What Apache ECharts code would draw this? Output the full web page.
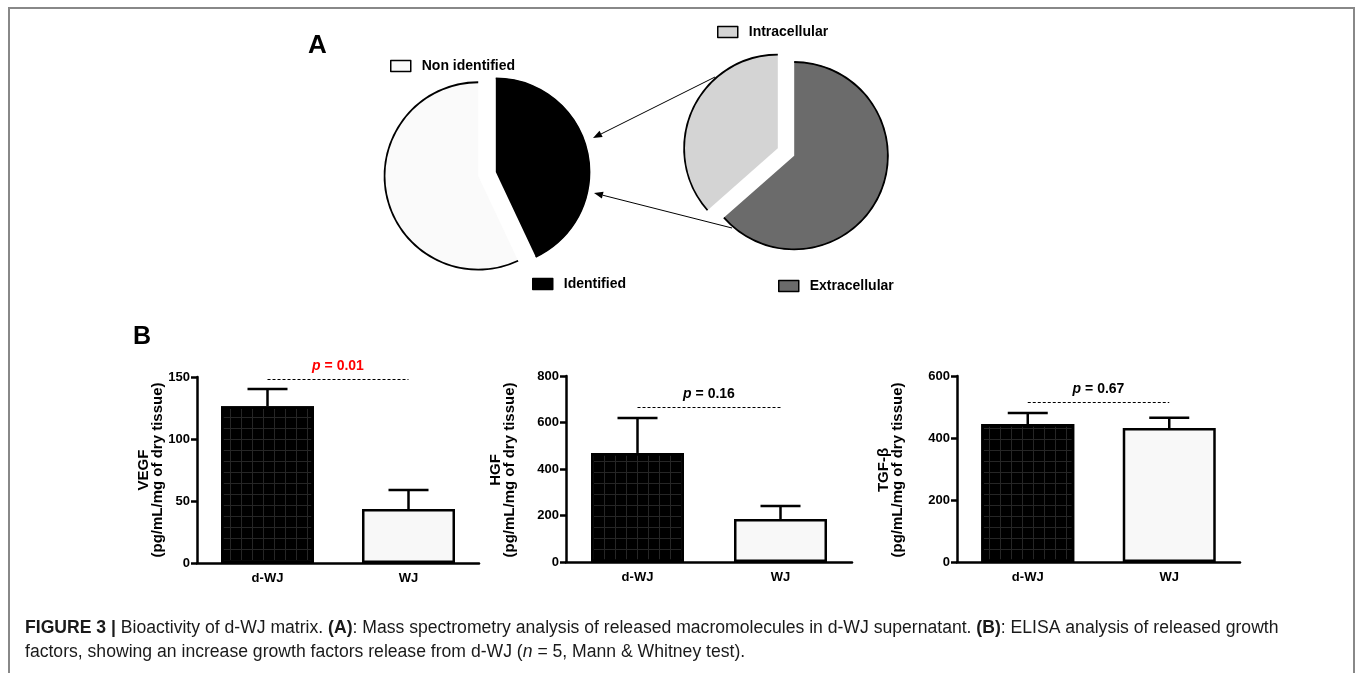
<!DOCTYPE html>
<html><head><meta charset="utf-8">
<script src="https://cdn.jsdelivr.net/npm/echarts@6/dist/echarts.min.js"></script>
<style>html,body{margin:0;padding:0;background:#fff}#c{width:1355px;height:673px}</style>
</head><body><div id="c"></div>
<script>
// ---------- data ----------
const categories = ['d-WJ', 'WJ'];
const vegfMean = [126.5, 43.5];
const vegfSD = [13.8, 15.4];
const hgfMean = [469, 185];
const hgfSD = [150, 56];
const tgfMean = [445, 432];
const tgfSD = [36, 33];
const pValues = ['0.01', '0.16', '0.67'];
const pLineLevel = [148, 667, 516];
const yMax = [150, 800, 600];
const yInterval = [50, 200, 200];
const yTitles = ['VEGF', 'HGF', 'TGF-β'];
const yUnit = '(pg/mL/mg of dry tissue)';
const pieANames = ['Identified', 'Non identified'];
const pieAValues = [43, 57];
const pieBNames = ['Extracellular', 'Intracellular'];
const pieBValues = [63.5, 36.5];
const captionLine1 = ['FIGURE 3 |', ' Bioactivity of d-WJ matrix. ', '(A)', ': Mass spectrometry analysis of released macromolecules in d-WJ supernatant. ', '(B)', ': ELISA analysis of released growth'];
const captionLine2 = ['factors, showing an increase growth factors release from d-WJ (', 'n', ' = 5, Mann & Whitney test).'];

// ---------- styles ----------
const FONT = '"Liberation Sans", Arial, Helvetica, sans-serif';
const pieAColors = ['#000000', '#fafafa'];
const pieBColors = ['#6b6b6b', '#d4d4d4'];
const grids = [
  {left: 197, top: 377, width: 282, height: 186},
  {left: 566, top: 376, width: 286, height: 186},
  {left: 957, top: 376, width: 283, height: 186}
];
const means = [vegfMean, hgfMean, tgfMean];
const sds = [vegfSD, hgfSD, tgfSD];
const titleX = [151, 503, 891];
const pColors = ['#ff0000', '#000', '#000'];
const barStyles = [
  {color: '#262626', borderColor: '#000', borderWidth: 2.5,
   decal: {symbol: 'rect', symbolSize: 1, color: '#000', dashArrayX: [10, 1], dashArrayY: [10, 1], rotation: 0}},
  {color: '#f8f8f8', borderColor: '#000', borderWidth: 2.5}
];

const chart = echarts.init(document.getElementById('c'), null, {renderer: 'canvas'});

const xAxes = [], yAxes = [], series = [];
for (let i = 0; i < 3; i++) {
  xAxes.push({
    type: 'category', gridIndex: i, data: categories,
    axisLine: {lineStyle: {color: '#000', width: 2.5}},
    axisTick: {alignWithLabel: true, length: 6, lineStyle: {color: '#000', width: 2.5}},
    axisLabel: {color: '#000', fontWeight: 'bold', fontSize: 13, fontFamily: FONT, margin: 9},
    splitLine: {show: false}
  });
  yAxes.push({
    type: 'value', gridIndex: i, min: 0, max: yMax[i], interval: yInterval[i],
    axisLine: {show: true, lineStyle: {color: '#000', width: 2.5}},
    axisTick: {show: true, length: 6, lineStyle: {color: '#000', width: 2.5}},
    axisLabel: {color: '#000', fontWeight: 'bold', fontSize: 13, fontFamily: FONT, margin: 7},
    splitLine: {show: false}
  });
  series.push({
    type: 'bar', xAxisIndex: i, yAxisIndex: i, barWidth: 93,
    data: means[i].map((v, k) => ({value: v, itemStyle: barStyles[k]})),
    emphasis: {disabled: true}, silent: true, z: 3,
    markLine: {
      silent: true, symbol: 'none', animation: false,
      lineStyle: {color: '#000', type: [3, 2], width: 1.2},
      label: {
        show: true, position: 'middle', distance: 6,
        formatter: '{i|p} = ' + pValues[i],
        color: pColors[i], fontWeight: 'bold', fontSize: 14, fontFamily: FONT,
        rich: {i: {fontStyle: 'italic', fontWeight: 'bold', fontSize: 14, fontFamily: FONT, color: pColors[i]}}
      },
      data: [[{coord: [categories[0], pLineLevel[i]]}, {coord: [categories[1], pLineLevel[i]]}]]
    }
  });
  const m = means[i], s = sds[i];
  series.push({
    type: 'custom', xAxisIndex: i, yAxisIndex: i, silent: true, z: 2,
    data: m.map((v, k) => [k, v, v + s[k]]),
    encode: {x: 0, y: [1, 2]},
    renderItem: (params, api) => {
      const base = api.coord([api.value(0), api.value(1)]);
      const top = api.coord([api.value(0), api.value(2)]);
      const hw = 20;
      return {type: 'group', children: [
        {type: 'line', shape: {x1: base[0], y1: base[1], x2: top[0], y2: top[1]}, style: {stroke: '#000', lineWidth: 2.5}},
        {type: 'line', shape: {x1: top[0] - hw, y1: top[1], x2: top[0] + hw, y2: top[1]}, style: {stroke: '#000', lineWidth: 2.5}}
      ]};
    }
  });
}

function pieFill(names, values, colors, center) {
  return {
    type: 'pie', center: center, radius: 94, startAngle: 90, clockwise: true,
    selectedMode: 'multiple', selectedOffset: 9, silent: true, animation: false,
    label: {show: false}, labelLine: {show: false}, emphasis: {disabled: true},
    itemStyle: {borderWidth: 0},
    data: names.map((n, k) => ({name: n, value: values[k], selected: true, itemStyle: {color: colors[k]}}))
  };
}
function pieRing(names, values, center) {
  return {
    type: 'pie', center: center, radius: [92.8, 94.6], startAngle: 90, clockwise: true,
    selectedMode: 'multiple', selectedOffset: 9, silent: true, animation: false,
    label: {show: false}, labelLine: {show: false}, emphasis: {disabled: true},
    itemStyle: {borderWidth: 0, color: '#000'},
    data: names.map((n, k) => ({name: 'ring ' + n, value: values[k], selected: true}))
  };
}
series.push(pieFill(pieANames, pieAValues, pieAColors, [487, 174]));
series.push(pieRing(pieANames, pieAValues, [487, 174]));
series.push(pieFill(pieBNames, pieBValues, pieBColors, [786, 152]));
series.push(pieRing(pieBNames, pieBValues, [786, 152]));

function legendAt(name, left, top) {
  return {
    data: [name], left: left, top: top, padding: 0, selectedMode: false,
    icon: 'rect', itemWidth: 20, itemHeight: 11,
    itemStyle: {borderColor: '#000', borderWidth: 1.5},
    textStyle: {color: '#000', fontWeight: 'bold', fontSize: 14, fontFamily: FONT, padding: [0, 0, 0, 6]}
  };
}

function arrow(x1, y1, x2, y2) {
  const a = Math.atan2(y2 - y1, x2 - x1), L = 9, W = 3.5;
  const bx = x2 - L * Math.cos(a), by = y2 - L * Math.sin(a);
  const px = -Math.sin(a) * W, py = Math.cos(a) * W;
  return [
    {type: 'line', shape: {x1: x1, y1: y1, x2: bx, y2: by}, style: {stroke: '#000', lineWidth: 1}},
    {type: 'polygon', shape: {points: [[x2, y2], [bx + px, by + py], [bx - px, by - py]]}, style: {fill: '#000'}}
  ];
}

const CAPSIZE = 17.6;
const richCap = {
  b: {fontWeight: 'bold', fontSize: CAPSIZE, fontFamily: FONT, fill: '#1a1a1a'},
  i: {fontStyle: 'italic', fontSize: CAPSIZE, fontFamily: FONT, fill: '#1a1a1a'}
};
const cap1 = '{b|' + captionLine1[0] + '}' + captionLine1[1] + '{b|' + captionLine1[2] + '}' + captionLine1[3] + '{b|' + captionLine1[4] + '}' + captionLine1[5];
const cap2 = captionLine2[0] + '{i|' + captionLine2[1] + '}' + captionLine2[2];

const graphics = [
  {type: 'rect', shape: {x: 9, y: 8, width: 1345, height: 700}, style: {fill: 'none', stroke: '#888', lineWidth: 2}, silent: true},
  {type: 'text', x: 308, y: 46, style: {text: 'A', font: 'bold 26px ' + FONT, fill: '#000', textVerticalAlign: 'middle'}},
  {type: 'text', x: 133, y: 337, style: {text: 'B', font: 'bold 25px ' + FONT, fill: '#000', textVerticalAlign: 'middle'}},
  ...arrow(715, 77, 593, 138),
  ...arrow(732, 228, 594, 193),
  {type: 'text', x: 25, y: 628, style: {text: cap1, font: CAPSIZE + 'px ' + FONT, fill: '#1a1a1a', textVerticalAlign: 'middle', rich: richCap}},
  {type: 'text', x: 25, y: 652, style: {text: cap2, font: CAPSIZE + 'px ' + FONT, fill: '#1a1a1a', textVerticalAlign: 'middle', rich: richCap}}
];
for (let i = 0; i < 3; i++) {
  graphics.push({
    type: 'text', x: titleX[i], y: 470, rotation: Math.PI / 2,
    style: {text: yTitles[i] + '\n' + yUnit, font: 'bold 15px ' + FONT, fill: '#000', textAlign: 'center', textVerticalAlign: 'middle', lineHeight: 14}
  });
}

chart.setOption({
  animation: false,
  backgroundColor: '#fff',
  grid: grids,
  xAxis: xAxes,
  yAxis: yAxes,
  legend: [
    legendAt('Non identified', 390, 59),
    legendAt('Intracellular', 717, 25),
    legendAt('Identified', 532, 277),
    legendAt('Extracellular', 778, 279)
  ],
  series: series,
  graphic: graphics
});
</script>
</body></html>
